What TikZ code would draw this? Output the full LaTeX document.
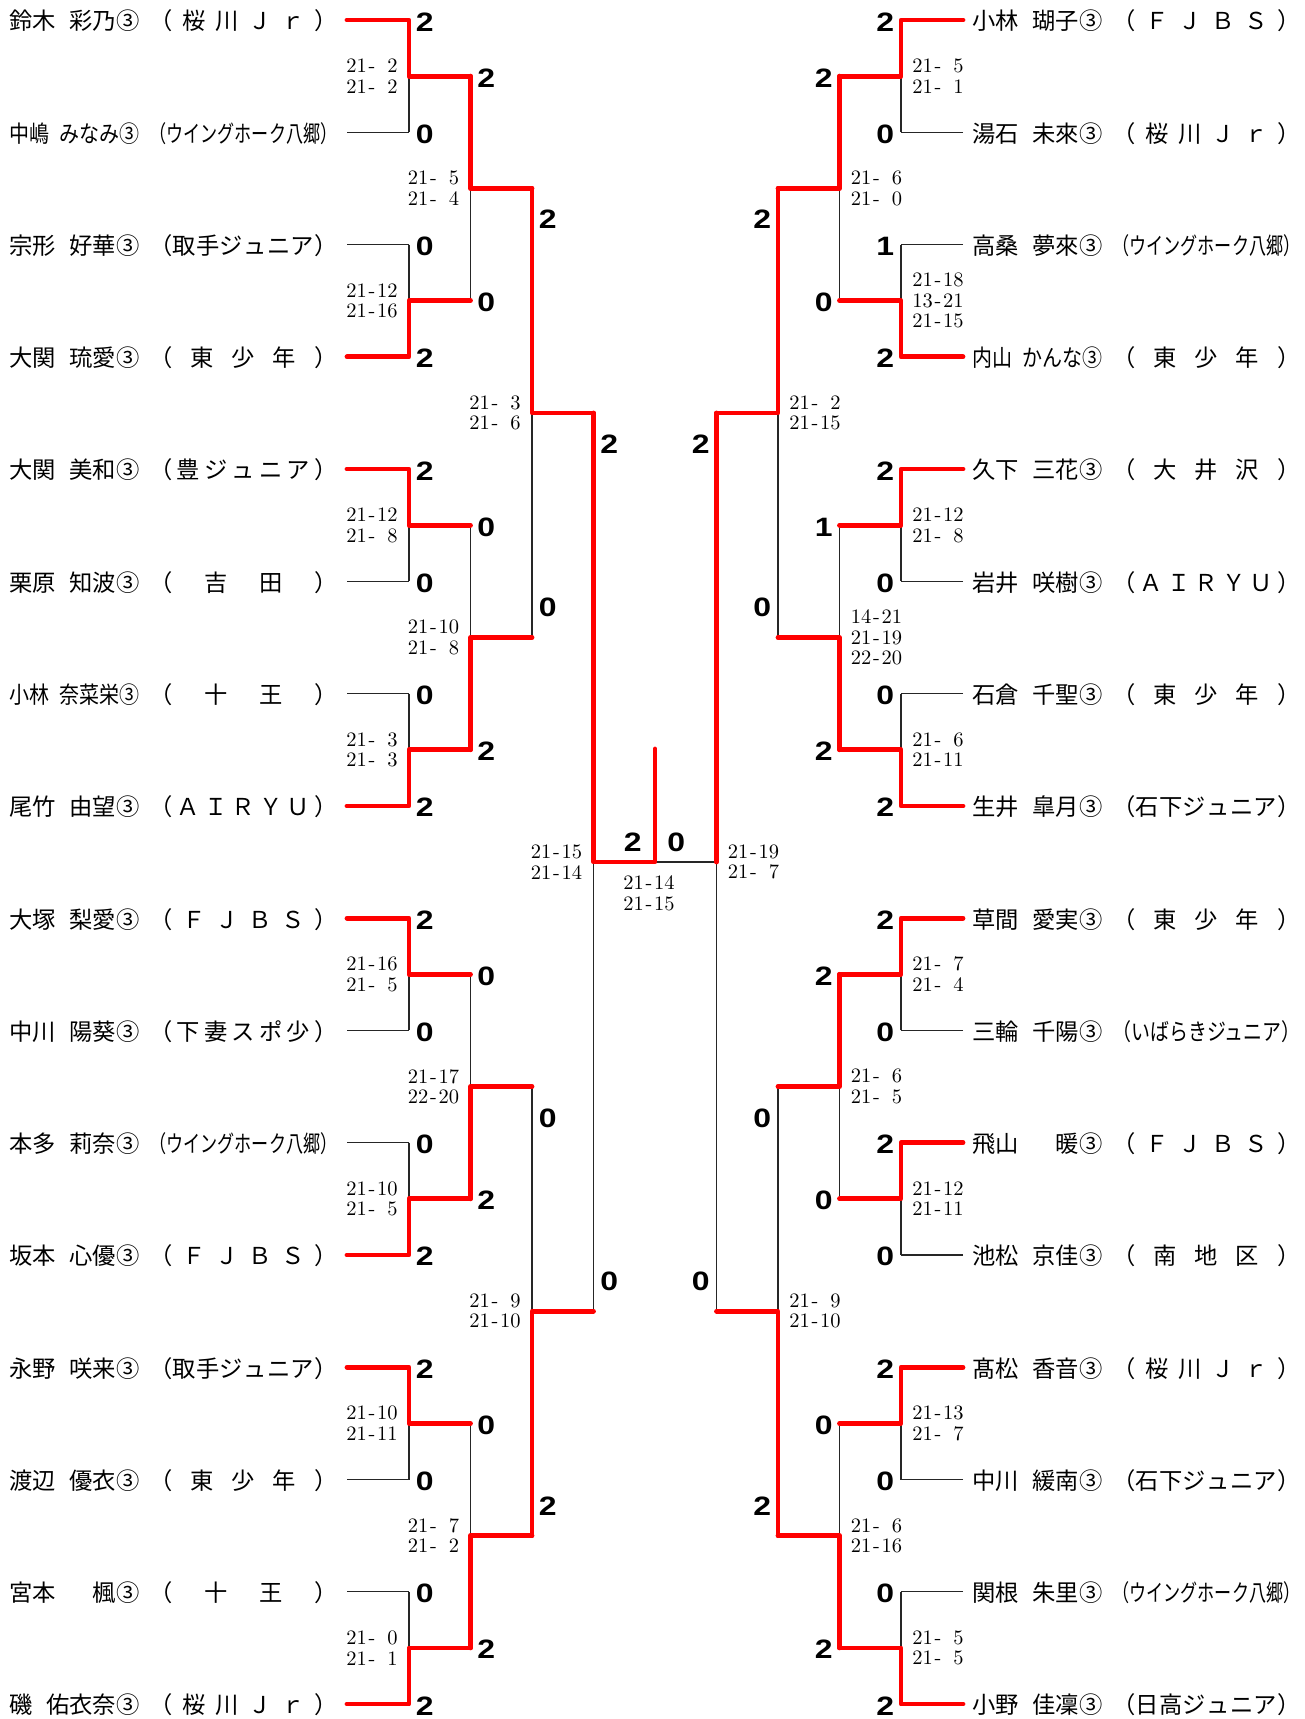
\documentclass[tikz,border=0pt]{standalone}
\usepackage{fontspec}
\usepackage{graphicx}
\newfontfamily\jp{Noto Sans CJK JP}
\newfontfamily\bn{Liberation Sans}[FakeStretch=1.2]
\newlength\namew \setlength\namew{65pt}
\newlength\teamw \setlength\teamw{94pt}
\makeatletter
\def\tm@spread#1#2\@nil{#1\ifx\relax#2\relax\else\hfill\tm@spread#2\@nil\fi}
\newcommand\tmbox[1]{\sbox0{#1}\ifdim\wd0>\teamw\relax\resizebox{\teamw}{\height}{#1}\else\makebox[\teamw][l]{\tm@spread#1\@nil}\fi}
\makeatother
\newcommand\nmbox[2]{\sbox0{#1\hspace{0.5em}#2}\ifdim\wd0>\namew\relax\resizebox{\namew}{\height}{#1\hspace{0.5em}#2}\else\makebox[\namew][l]{#1\hfill#2}\fi}
\newcommand\hy{\makebox[0.5em]{-}}
\newcommand\sco[2]{#1\hy\ifnum#2<10 \hphantom{0}\fi#2}
\tikzset{
  thinln/.style={draw=black!85,line width=0.65pt},
  winln/.style={draw=red,line width=2.4pt,line cap=round,line join=round},
  pname/.style={inner sep=0pt,anchor=west,font=\jp\fontsize{11.65pt}{12pt}\selectfont,text height=10.25pt,text depth=1.4pt},
  sc/.style={inner sep=0pt,font=\fontsize{10.25pt}{10.25pt}\selectfont},
  num/.style={inner sep=0pt,font=\bn\bfseries\fontsize{13.3pt}{14pt}\selectfont,text height=9.5pt,text depth=0pt},
}
\newcommand\labL[3]{\node[sc,anchor=east,align=right] (#1) at ([xshift=-5.5pt]#2) {#3};}
\newcommand\labR[3]{\node[sc,anchor=west,align=left] (#1) at ([xshift=5.5pt]#2) {#3};}
\newcommand\plL[4]{\pgfmathsetmacro\yy{21+112.27*#1}\node[pname] (Ln#1) at (9,\yy) {\nmbox{#2}{#3}};\node[pname] (Lt#1) at (149,\yy) {\tmbox{#4}};}
\newcommand\plR[4]{\pgfmathsetmacro\yy{21+112.27*#1}\node[pname] (Rn#1) at (972,\yy) {\nmbox{#2}{#3}};\node[pname] (Rt#1) at (1112,\yy) {\tmbox{#4}};}
\begin{document}
\begin{tikzpicture}[x=0.5pt,y=-0.5pt]
\useasboundingbox (0,0) rectangle (1305,1719);
% ---------- coordinates ----------
\foreach \i in {0,...,15}{
  \pgfmathsetmacro\yy{20+112.27*\i}
  \coordinate (LP\i) at (347,\yy);
  \coordinate (LA\i) at (409,\yy);
  \coordinate (RP\i) at (963,\yy);
  \coordinate (RA\i) at (901,\yy);
}
\foreach \m in {0,...,7}{
  \pgfmathsetmacro\yy{76.135+224.54*\m}
  \coordinate (LJA\m) at (409,\yy);
  \coordinate (LB\m) at (470.5,\yy);
  \coordinate (RJA\m) at (901,\yy);
  \coordinate (RB\m) at (839.5,\yy);
}
\foreach \k in {0,...,3}{
  \pgfmathsetmacro\yy{188.405+449.08*\k}
  \coordinate (LJB\k) at (470.5,\yy);
  \coordinate (LC\k) at (532,\yy);
  \coordinate (RJB\k) at (839.5,\yy);
  \coordinate (RC\k) at (778,\yy);
}
\foreach \j in {0,1}{
  \pgfmathsetmacro\yy{412.945+898.16*\j}
  \coordinate (LJC\j) at (532,\yy);
  \coordinate (LD\j) at (593.5,\yy);
  \coordinate (RJC\j) at (778,\yy);
  \coordinate (RD\j) at (716.5,\yy);
}
\coordinate (LJD) at (593.5,862);
\coordinate (RJD) at (716.5,862);
\coordinate (CM) at (655,862);
\coordinate (CT) at (655,749);
% ---------- thin lines ----------
\foreach \i in {0,...,15}{\draw[thinln] (LP\i) -- (LA\i); \draw[thinln] (RP\i) -- (RA\i);}
\foreach \m in {0,...,7}{\pgfmathtruncatemacro\ia{2*\m}\pgfmathtruncatemacro\ib{2*\m+1}
  \draw[thinln] (LA\ia) -- (LA\ib); \draw[thinln] (RA\ia) -- (RA\ib);}
\foreach \k in {0,...,3}{\pgfmathtruncatemacro\ia{2*\k}\pgfmathtruncatemacro\ib{2*\k+1}
  \draw[thinln] (LB\ia) -- (LB\ib); \draw[thinln] (RB\ia) -- (RB\ib);}
\foreach \j in {0,1}{\pgfmathtruncatemacro\ia{2*\j}\pgfmathtruncatemacro\ib{2*\j+1}
  \draw[thinln] (LC\ia) -- (LC\ib); \draw[thinln] (RC\ia) -- (RC\ib);}
\draw[thinln] (LD0) -- (LD1); \draw[thinln] (RD0) -- (RD1);
\draw[thinln] (LJD) -- (RJD);
% ---------- winner lines ----------
\foreach \m/\w in {0/0,1/1,2/0,3/1,4/0,5/1,6/0,7/1}{
  \pgfmathtruncatemacro\pp{2*\m+\w}
  \draw[winln] (LP\pp) -- (LA\pp) -- (LJA\m) -- (LB\m);}
\foreach \k/\w in {0/0,1/1,2/1,3/1}{
  \pgfmathtruncatemacro\pp{2*\k+\w}
  \draw[winln] (LB\pp) -- (LJB\k) -- (LC\k);}
\foreach \j/\w in {0/0,1/1}{
  \pgfmathtruncatemacro\pp{2*\j+\w}
  \draw[winln] (LC\pp) -- (LJC\j) -- (LD\j);}
\draw[winln] (LD0) -- (LJD) -- (CM) -- (CT);
\foreach \m/\w in {0/0,1/1,2/0,3/1,4/0,5/0,6/0,7/1}{
  \pgfmathtruncatemacro\pp{2*\m+\w}
  \draw[winln] (RP\pp) -- (RA\pp) -- (RJA\m) -- (RB\m);}
\foreach \k/\w in {0/0,1/1,2/0,3/1}{
  \pgfmathtruncatemacro\pp{2*\k+\w}
  \draw[winln] (RB\pp) -- (RJB\k) -- (RC\k);}
\foreach \j/\w in {0/0,1/1}{
  \pgfmathtruncatemacro\pp{2*\j+\w}
  \draw[winln] (RC\pp) -- (RJC\j) -- (RD\j);}
\draw[winln] (RD0) -- (RJD);
% ---------- game counts ----------
\foreach \i/\v in {0/2,1/0,2/0,3/2,4/2,5/0,6/0,7/2,8/2,9/0,10/0,11/2,12/2,13/0,14/0,15/2}{
  \node[num,anchor=west] (nLA\i) at ([xshift=3.25pt,yshift=-0.75pt]LA\i) {\v};}
\foreach \m/\v in {0/2,1/0,2/0,3/2,4/0,5/2,6/0,7/2}{
  \node[num,anchor=west] (nLB\m) at ([xshift=3.25pt,yshift=-0.75pt]LB\m) {\v};}
\foreach \k/\v/\s in {0/2/-15.5,1/0/15,2/0/-15.5,3/2/15}{
  \node[num,anchor=west] (nLC\k) at ([xshift=3.25pt,yshift=\s pt]LC\k) {\v};}
\foreach \j/\v/\s in {0/2/-15.5,1/0/15}{
  \node[num,anchor=west] (nLD\j) at ([xshift=3.25pt,yshift=\s pt]LD\j) {\v};}
\foreach \i/\v in {0/2,1/0,2/1,3/2,4/2,5/0,6/0,7/2,8/2,9/0,10/2,11/0,12/2,13/0,14/0,15/2}{
  \node[num,anchor=east] (nRA\i) at ([xshift=-3.25pt,yshift=-0.75pt]RA\i) {\v};}
\foreach \m/\v in {0/2,1/0,2/1,3/2,4/2,5/0,6/0,7/2}{
  \node[num,anchor=east] (nRB\m) at ([xshift=-3.25pt,yshift=-0.75pt]RB\m) {\v};}
\foreach \k/\v/\s in {0/2/-15.5,1/0/15,2/0/-15.5,3/2/15}{
  \node[num,anchor=east] (nRC\k) at ([xshift=-3.25pt,yshift=\s pt]RC\k) {\v};}
\foreach \j/\v/\s in {0/2/-15.5,1/0/15}{
  \node[num,anchor=east] (nRD\j) at ([xshift=-3.25pt,yshift=\s pt]RD\j) {\v};}
\node[num,anchor=east] (nFL) at ([xshift=-6.5pt,yshift=10pt]CM) {2};
\node[num,anchor=west] (nFR) at ([xshift=6pt,yshift=10pt]CM) {0};
% ---------- game scores ----------
\labL{sLA0}{LJA0}{\sco{21}{2}\\\sco{21}{2}}
\labL{sLA1}{LJA1}{\sco{21}{12}\\\sco{21}{16}}
\labL{sLA2}{LJA2}{\sco{21}{12}\\\sco{21}{8}}
\labL{sLA3}{LJA3}{\sco{21}{3}\\\sco{21}{3}}
\labL{sLA4}{LJA4}{\sco{21}{16}\\\sco{21}{5}}
\labL{sLA5}{LJA5}{\sco{21}{10}\\\sco{21}{5}}
\labL{sLA6}{LJA6}{\sco{21}{10}\\\sco{21}{11}}
\labL{sLA7}{LJA7}{\sco{21}{0}\\\sco{21}{1}}
\labL{sLB0}{LJB0}{\sco{21}{5}\\\sco{21}{4}}
\labL{sLB1}{LJB1}{\sco{21}{10}\\\sco{21}{8}}
\labL{sLB2}{LJB2}{\sco{21}{17}\\\sco{22}{20}}
\labL{sLB3}{LJB3}{\sco{21}{7}\\\sco{21}{2}}
\labL{sLC0}{LJC0}{\sco{21}{3}\\\sco{21}{6}}
\labL{sLC1}{LJC1}{\sco{21}{9}\\\sco{21}{10}}
\labL{sLD}{LJD}{\sco{21}{15}\\\sco{21}{14}}
\labR{sRA0}{RJA0}{\sco{21}{5}\\\sco{21}{1}}
\labR{sRA1}{RJA1}{\sco{21}{18}\\\sco{13}{21}\\\sco{21}{15}}
\labR{sRA2}{RJA2}{\sco{21}{12}\\\sco{21}{8}}
\labR{sRA3}{RJA3}{\sco{21}{6}\\\sco{21}{11}}
\labR{sRA4}{RJA4}{\sco{21}{7}\\\sco{21}{4}}
\labR{sRA5}{RJA5}{\sco{21}{12}\\\sco{21}{11}}
\labR{sRA6}{RJA6}{\sco{21}{13}\\\sco{21}{7}}
\labR{sRA7}{RJA7}{\sco{21}{5}\\\sco{21}{5}}
\labR{sRB0}{RJB0}{\sco{21}{6}\\\sco{21}{0}}
\labR{sRB1}{RJB1}{\sco{14}{21}\\\sco{21}{19}\\\sco{22}{20}}
\labR{sRB2}{RJB2}{\sco{21}{6}\\\sco{21}{5}}
\labR{sRB3}{RJB3}{\sco{21}{6}\\\sco{21}{16}}
\labR{sRC0}{RJC0}{\sco{21}{2}\\\sco{21}{15}}
\labR{sRC1}{RJC1}{\sco{21}{9}\\\sco{21}{10}}
\labR{sRD}{RJD}{\sco{21}{19}\\\sco{21}{7}}
\node[sc,align=center] (sF) at ([xshift=-3pt,yshift=-15.75pt]CM) {\sco{21}{14}\\\sco{21}{15}};
% ---------- players ----------
\plL{0}{鈴木}{彩乃③}{（桜川Ｊｒ）}
\plL{1}{中嶋}{みなみ③}{（ウイングホーク八郷）}
\plL{2}{宗形}{好華③}{（取手ジュニア）}
\plL{3}{大関}{琉愛③}{（東少年）}
\plL{4}{大関}{美和③}{（豊ジュニア）}
\plL{5}{栗原}{知波③}{（吉田）}
\plL{6}{小林}{奈菜栄③}{（十王）}
\plL{7}{尾竹}{由望③}{（ＡＩＲＹＵ）}
\plL{8}{大塚}{梨愛③}{（ＦＪＢＳ）}
\plL{9}{中川}{陽葵③}{（下妻スポ少）}
\plL{10}{本多}{莉奈③}{（ウイングホーク八郷）}
\plL{11}{坂本}{心優③}{（ＦＪＢＳ）}
\plL{12}{永野}{咲来③}{（取手ジュニア）}
\plL{13}{渡辺}{優衣③}{（東少年）}
\plL{14}{宮本}{楓③}{（十王）}
\plL{15}{磯}{佑衣奈③}{（桜川Ｊｒ）}
\plR{0}{小林}{瑚子③}{（ＦＪＢＳ）}
\plR{1}{湯石}{未來③}{（桜川Ｊｒ）}
\plR{2}{高桑}{夢來③}{（ウイングホーク八郷）}
\plR{3}{内山}{かんな③}{（東少年）}
\plR{4}{久下}{三花③}{（大井沢）}
\plR{5}{岩井}{咲樹③}{（ＡＩＲＹＵ）}
\plR{6}{石倉}{千聖③}{（東少年）}
\plR{7}{生井}{皐月③}{（石下ジュニア）}
\plR{8}{草間}{愛実③}{（東少年）}
\plR{9}{三輪}{千陽③}{（いばらきジュニア）}
\plR{10}{飛山}{暖③}{（ＦＪＢＳ）}
\plR{11}{池松}{京佳③}{（南地区）}
\plR{12}{髙松}{香音③}{（桜川Ｊｒ）}
\plR{13}{中川}{緩南③}{（石下ジュニア）}
\plR{14}{関根}{朱里③}{（ウイングホーク八郷）}
\plR{15}{小野}{佳凜③}{（日高ジュニア）}
\end{tikzpicture}
\end{document}
